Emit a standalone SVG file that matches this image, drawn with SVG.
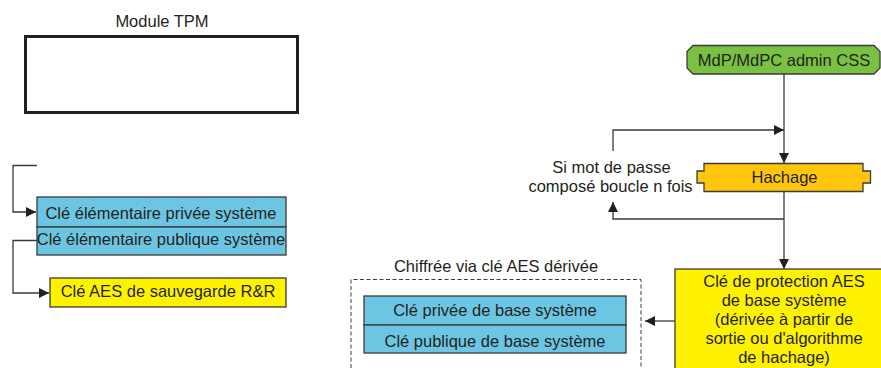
<svg xmlns="http://www.w3.org/2000/svg" width="881" height="368" viewBox="0 0 881 368">
<style>
text{font-family:"Liberation Sans",Arial,Helvetica,sans-serif;font-size:16.5px;fill:#231f20;text-anchor:middle}
.blue{fill:#6cc6e3;stroke:#3a3a3a;stroke-width:1.3}
.yel{fill:#fff200;stroke:#3a3a3a;stroke-width:1.3}
.ln{fill:none;stroke:#3a3a3a;stroke-width:1.3}
</style>
<defs>
<marker id="ah" viewBox="0 0 10 10" refX="10" refY="5" markerWidth="10" markerHeight="10" markerUnits="userSpaceOnUse" orient="auto">
<path d="M0,0 L10,5 L0,10 z" fill="#231f20"/>
</marker>
</defs>
<rect width="881" height="368" fill="#fff"/>

<g id="tpm">
<text x="162" y="27">Module TPM</text>
<rect x="25.5" y="36.5" width="272" height="76" fill="#fff" stroke="#231f20" stroke-width="3"/>
</g>

<g id="elem-keys">
<rect class="blue" x="37" y="197" width="249" height="30"/>
<rect class="blue" x="37" y="227" width="249" height="28"/>
<text x="161" y="218.5">Clé élémentaire privée système</text>
<text x="161" y="245">Clé élémentaire publique système</text>
</g>

<g id="aes-rr">
<rect class="yel" x="50" y="278" width="236" height="29"/>
<text x="168" y="297">Clé AES de sauvegarde R&amp;R</text>
</g>

<g id="encrypted">
<text x="496" y="271.5">Chiffrée via clé AES dérivée</text>
<path d="M351,368 V279.5 H641 V368" fill="none" stroke="#3a3a3a" stroke-width="1" stroke-dasharray="4,2.5"/>
<rect class="blue" x="364" y="296" width="262" height="29"/>
<rect class="blue" x="364" y="325" width="262" height="28"/>
<text x="495" y="315.5">Clé privée de base système</text>
<text x="495" y="346.5">Clé publique de base système</text>
</g>

<g id="mdp">
<path d="M693,45.5 H874 L880,51.5 V68 L874,74 H693 L687,68 V51.5 Z" fill="#7ac143" stroke="#3a3a3a" stroke-width="1.3"/>
<text x="784" y="65.5">MdP/MdPC admin CSS</text>
</g>

<g id="hachage">
<path d="M704,163.5 H863 V171 H870.5 V183 H863 V191.5 H704 V183 H697 V171 H704 Z" fill="#ffc60b" stroke="#3a3a3a" stroke-width="1.3"/>
<text x="784.5" y="182.5">Hachage</text>
</g>

<g id="loop-label">
<text x="611.5" y="172.5">Si mot de passe</text>
<text x="610.5" y="191.5">composé boucle n fois</text>
</g>

<g id="aes-protect">
<rect class="yel" x="675" y="269" width="210" height="104"/>
<text x="784" y="287">Clé de protection AES</text>
<text x="784" y="306">de base système</text>
<text x="784" y="325">(dérivée à partir de</text>
<text x="784" y="344">sortie ou d'algorithme</text>
<text x="784" y="363">de hachage)</text>
</g>

<g id="connectors">
<path class="ln" d="M37,165.5 H13 V212 H36" marker-end="url(#ah)"/>
<path class="ln" d="M37,240.5 H13 V293 H49" marker-end="url(#ah)"/>
<path class="ln" d="M784,74 V163" marker-end="url(#ah)"/>
<path class="ln" d="M613,151 V130 H784" marker-end="url(#ah)"/>
<path class="ln" d="M784,191.5 V269" marker-end="url(#ah)"/>
<path class="ln" d="M784,219 H613 V202" marker-end="url(#ah)"/>
<path class="ln" d="M675,321 H645" marker-end="url(#ah)"/>
</g>
</svg>
